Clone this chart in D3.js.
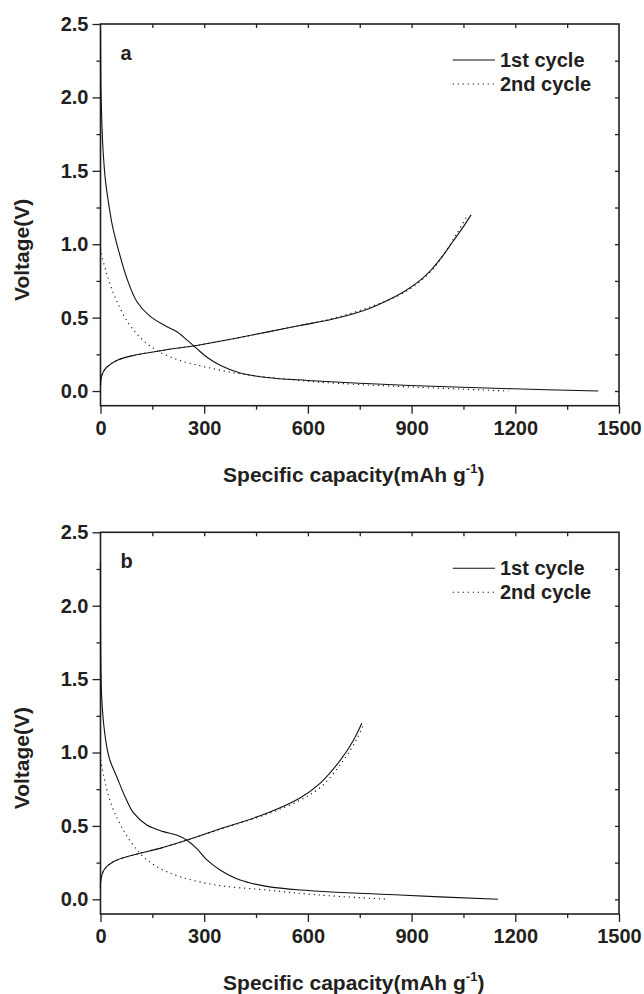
<!DOCTYPE html>
<html>
<head>
<meta charset="utf-8">
<script src="https://cdn.jsdelivr.net/npm/d3@7"></script>
<style>
    body { margin: 0; background: #fff; }
    text { font-family: "Liberation Sans", Arial, sans-serif; font-weight: bold; fill: #231f20; }
</style>
</head>
<body>
<div id="chart"></div>
<script>

// ---- data (capacity mAh/g, voltage V) ----
let xTicks = [0, 300, 600, 900, 1200, 1500];
let yTicks = [0.0, 0.5, 1.0, 1.5, 2.0, 2.5];
let seriesNames = ["1st cycle", "2nd cycle"];

let aCycle1Discharge = [[0, 2.45], [1, 2.1], [3, 1.9], [6, 1.7], [10, 1.55], [14, 1.44], [22, 1.3], [35, 1.12], [52, 0.96],
    [76, 0.77], [105, 0.61], [143, 0.51], [191, 0.44], [220, 0.405], [249, 0.35], [278, 0.29], [307, 0.232], [346, 0.176],
    [404, 0.123], [481, 0.092], [600, 0.072], [750, 0.053], [895, 0.038], [1194, 0.015], [1440, 0.0]];
let aCycle1Charge = [[0, 0.04], [2, 0.09], [8, 0.13], [18, 0.162], [47, 0.208], [95, 0.242], [191, 0.281], [278, 0.31],
    [384, 0.356], [481, 0.401], [577, 0.446], [673, 0.49], [770, 0.555], [837, 0.625], [880, 0.68], [920, 0.745],
    [955, 0.82], [990, 0.92], [1020, 1.02], [1050, 1.12], [1072, 1.2]];
let aCycle2Discharge = [[0, 0.97], [1, 0.946], [18, 0.8], [42, 0.64], [76, 0.48], [114, 0.367], [163, 0.276], [230, 0.208],
    [307, 0.162], [404, 0.117], [529, 0.083], [635, 0.06], [866, 0.031], [1180, 0.0]];
let aCycle2Charge = [[0, 0.04], [2, 0.09], [8, 0.13], [18, 0.162], [47, 0.208], [95, 0.242], [191, 0.281], [278, 0.31],
    [384, 0.356], [481, 0.401], [577, 0.448], [673, 0.495], [770, 0.565], [866, 0.655], [924, 0.745], [963, 0.835],
    [996, 0.94], [1030, 1.07], [1060, 1.19]];

let bCycle1Discharge = [[0, 2.3], [0.5, 1.7], [3, 1.4], [6, 1.28], [10, 1.176], [18, 1.04], [27, 0.949], [47, 0.835],
    [71, 0.699], [95, 0.59], [134, 0.506], [182, 0.461], [220, 0.438], [249, 0.404], [278, 0.347], [307, 0.27],
    [346, 0.2], [404, 0.131], [481, 0.088], [577, 0.063], [866, 0.029], [1150, 0.0]];
let bCycle1Charge = [[0, 0.08], [0.5, 0.12], [10, 0.2], [37, 0.256], [95, 0.302], [172, 0.347], [235, 0.392], [336, 0.472],
    [481, 0.586], [577, 0.69], [635, 0.79], [693, 0.945], [731, 1.08], [756, 1.199]];
let bCycle2Discharge = [[0, 0.95], [27, 0.676], [66, 0.472], [114, 0.313], [163, 0.222], [230, 0.154], [336, 0.097],
    [481, 0.063], [635, 0.029], [833, 0.0]];
let bCycle2Charge = [[0, 0.08], [0.5, 0.12], [10, 0.2], [37, 0.256], [95, 0.302], [172, 0.347], [235, 0.392], [336, 0.47],
    [481, 0.58], [577, 0.675], [640, 0.77], [702, 0.945], [740, 1.085], [760, 1.187]];


class VoltagePanel {

    constructor(svg, top, label, cycle1, cycle2) {
        this.svg = svg;
        this.top = top;
        this.label = label;
        this.cycle1 = cycle1;   // [discharge, charge]
        this.cycle2 = cycle2;

        this.initVis();
    }

    initVis() {
        let vis = this;

        vis.left = 100.5;
        vis.right = 619;
        vis.height = 381.7;
        vis.bottom = vis.top + vis.height;

        vis.x = d3.scaleLinear().domain([0, 1500]).range([vis.left, vis.right]);
        vis.y = d3.scaleLinear().domain([-0.1, 2.5]).range([vis.bottom, vis.top]);

        vis.g = vis.svg.append("g");

        // minor ticks
        let xMinor = d3.range(150, 1500, 300);
        let yMinor = [0.25, 0.75, 1.25, 1.75, 2.25];

        vis.g.append("g")
            .attr("transform", `translate(0, ${vis.bottom})`)
            .call(d3.axisBottom(vis.x).tickValues(xMinor).tickSize(4).tickFormat(""));
        vis.g.append("g")
            .attr("transform", `translate(${vis.left}, 0)`)
            .call(d3.axisLeft(vis.y).tickValues(yMinor).tickSize(4).tickFormat(""));

        // inner ticks on top and right
        vis.g.append("g")
            .attr("transform", `translate(0, ${vis.top})`)
            .call(d3.axisBottom(vis.x).tickValues(d3.range(150, 1500, 150)).tickSize(4).tickFormat(""));
        vis.g.append("g")
            .attr("transform", `translate(${vis.right}, 0)`)
            .call(d3.axisLeft(vis.y).tickValues(d3.range(0, 2.5, 0.25)).tickSize(4).tickFormat(""));

        // major axes with labels
        vis.g.append("g")
            .attr("class", "x-axis")
            .attr("transform", `translate(0, ${vis.bottom})`)
            .call(d3.axisBottom(vis.x).tickValues(xTicks).tickSize(8).tickPadding(7).tickFormat(d3.format("d")));
        vis.g.append("g")
            .attr("class", "y-axis")
            .attr("transform", `translate(${vis.left}, 0)`)
            .call(d3.axisLeft(vis.y).tickValues(yTicks).tickSize(8).tickPadding(4).tickFormat(d3.format(".1f")));

        vis.g.selectAll(".domain").remove();
        vis.g.selectAll(".tick line").attr("stroke", "#231f20").attr("stroke-width", 1.3);
        vis.g.selectAll(".tick text").style("font-size", "20px").attr("fill", "#231f20");

        // frame
        vis.g.append("rect")
            .attr("x", vis.left)
            .attr("y", vis.top)
            .attr("width", vis.right - vis.left)
            .attr("height", vis.height)
            .attr("fill", "none")
            .attr("stroke", "#231f20")
            .attr("stroke-width", 1.6);

        // axis titles
        vis.g.append("text")
            .attr("transform", `translate(28.5, ${vis.top + vis.height / 2 + 35}) rotate(-90)`)
            .attr("text-anchor", "middle")
            .style("font-size", "21px")
            .text("Voltage(V)");

        let xt = vis.g.append("text")
            .attr("x", (vis.left + vis.right) / 2 - 6)
            .attr("y", vis.bottom + 76)
            .attr("text-anchor", "middle")
            .style("font-size", "21px");
        xt.append("tspan").text("Specific capacity(mAh g");
        xt.append("tspan").attr("dy", -9).style("font-size", "13px").text("-1");
        xt.append("tspan").attr("dy", 9).text(")");

        // panel label
        vis.g.append("text")
            .attr("x", 120.5)
            .attr("y", vis.top + 36)
            .style("font-size", "20px")
            .text(vis.label);

        vis.updateVis();
    }

    updateVis() {
        let vis = this;

        let line = d3.line()
            .x(d => vis.x(d[0]))
            .y(d => vis.y(d[1]))
            .curve(d3.curveCatmullRom.alpha(0.5));

        vis.cycle1.forEach(s => {
            vis.g.append("path")
                .attr("d", line(s))
                .attr("fill", "none")
                .attr("stroke", "#111")
                .attr("stroke-width", 1.1);
        });

        vis.cycle2.forEach(s => {
            vis.g.append("path")
                .attr("d", line(s))
                .attr("fill", "none")
                .attr("stroke", "#111")
                .attr("stroke-width", 1.1)
                .attr("stroke-dasharray", "1.2,3.8");
        });

        // legend
        let legend = vis.g.append("g")
            .attr("transform", `translate(452.7, ${vis.top + 36})`);

        seriesNames.forEach((name, i) => {
            legend.append("line")
                .attr("x1", 0).attr("x2", 42.3)
                .attr("y1", i * 24).attr("y2", i * 24)
                .attr("stroke", "#111")
                .attr("stroke-width", 1.1)
                .attr("stroke-dasharray", i === 0 ? null : "1.2,3.8");
            legend.append("text")
                .attr("x", 47.3)
                .attr("y", i * 24)
                .attr("dy", "0.35em")
                .style("font-size", "20px")
                .text(name);
        });
    }
}

let svg = d3.select("#chart").append("svg")
    .attr("width", 644)
    .attr("height", 994);

new VoltagePanel(svg, 24, "a", [aCycle1Discharge, aCycle1Charge], [aCycle2Discharge, aCycle2Charge]);
new VoltagePanel(svg, 532.3, "b", [bCycle1Discharge, bCycle1Charge], [bCycle2Discharge, bCycle2Charge]);

</script>
</body>
</html>
